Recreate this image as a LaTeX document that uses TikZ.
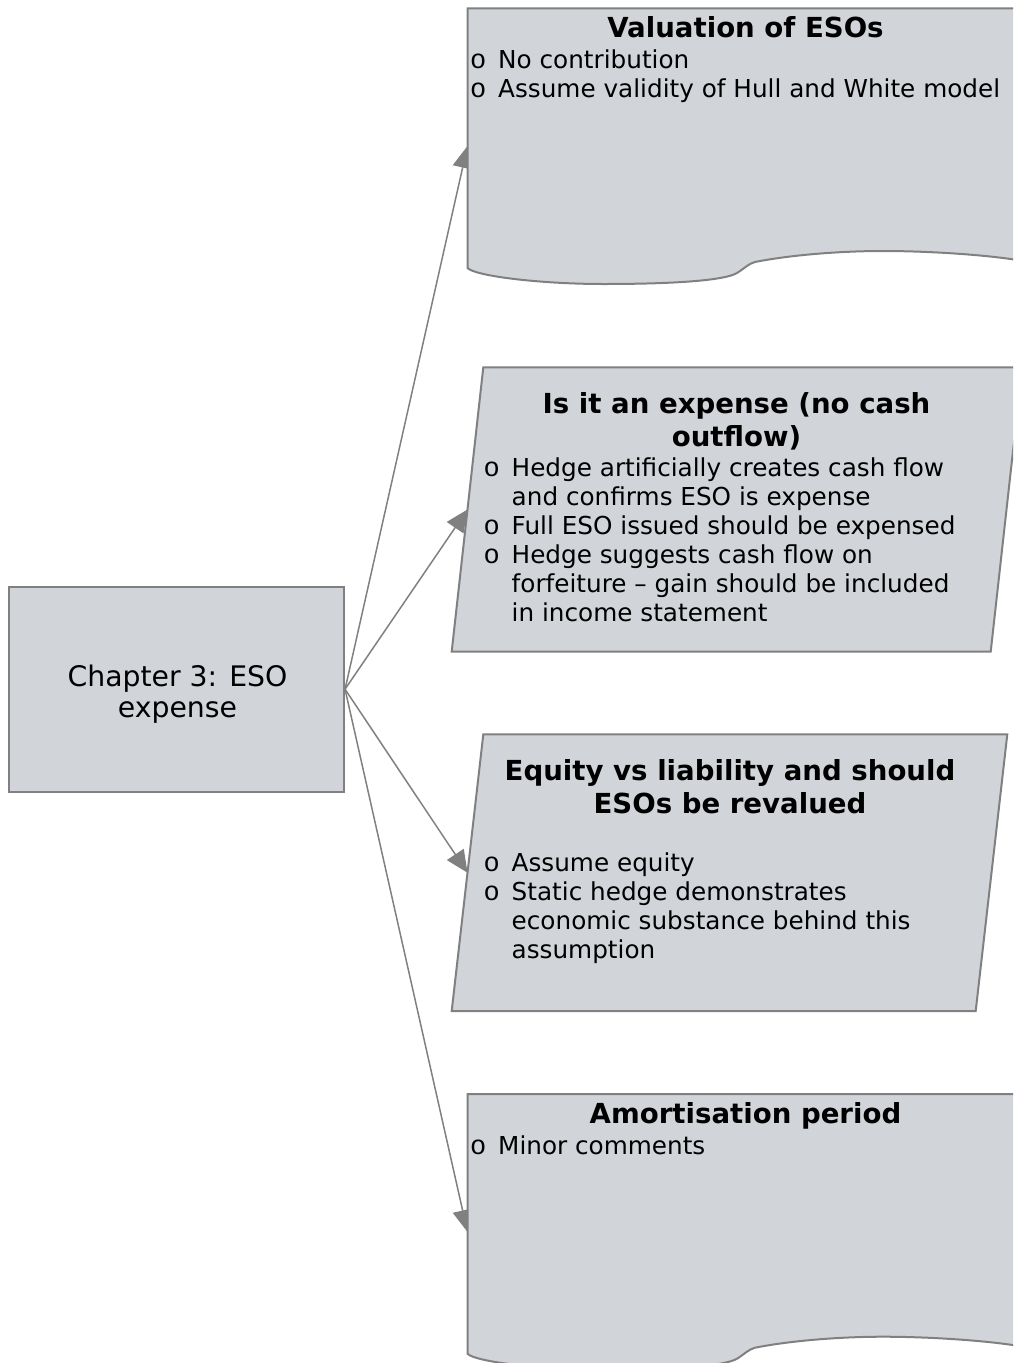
\documentclass[tikz,border=0pt]{standalone}
\usepackage{fontspec}
\setmainfont{DejaVu Sans}
\newfontfamily\bulletfont{Liberation Mono}
\usetikzlibrary{arrows.meta}

\definecolor{boxfill}{RGB}{209,213,218}
\definecolor{edgegray}{RGB}{128,128,128}

\newcommand\bodyfont{\fontsize{24.7pt}{29pt}\selectfont}
\newcommand\headfont{\fontsize{27.6pt}{33.3pt}\selectfont\bfseries}
\newcommand\rootfont{\fontsize{28.3pt}{31pt}\selectfont}
% bullet item and its continuation lines
\newcommand\itm[1]{\strut\makebox[28pt][l]{\bulletfont\fontsize{27pt}{29pt}\selectfont o}#1}
\newcommand\cont[1]{\strut\hspace*{28pt}#1}

% document shape with a wavy lower edge, top edge at y = #1
\newcommand\docshape[1]{%
  \begin{scope}[shift={(0,#1)}]
    \path[boxshape] (467.5,0) -- (1023,0) -- (1023,252.7)
      .. controls (990,246.7) and (930,242.7) .. (883,242.7)
      .. controls (840,242.7) and (790,246.7) .. (755,253.7)
      .. controls (748,255.7) and (745,259.7) .. (737,264.7)
      .. controls (725,271.7) and (680,275.7) .. (603,275.7)
      .. controls (540,275.7) and (475,267.7) .. (467.5,259.7) -- cycle;
  \end{scope}}

\begin{document}
\begin{tikzpicture}[x=1pt,y=-1pt,
  boxshape/.style={draw=edgegray, line width=2pt, fill=boxfill},
  conn/.style={draw=edgegray, line width=1.5pt, -{Triangle[length=22pt,width=20pt]}},
  heading/.style={anchor=north, inner sep=0pt, align=center, font=\headfont},
  body/.style={anchor=north west, inner sep=0pt, align=left, font=\bodyfont}]

\useasboundingbox (0,0) rectangle (1013,1363);
\clip (0,0) rectangle (1013,1363);

% root box
\node[boxshape, minimum width=334.7pt, minimum height=205pt, inner sep=0pt]
  (root) at (176.7,689.2) {};
\node[anchor=north, inner sep=0pt, align=center, font=\rootfont]
  (roottext) at (177.5,664.3) {\strut Chapter 3: ESO\\\strut expense};

% entry points on the left side of each topic box
\coordinate (valin) at (467.5,146);
\coordinate (expin) at (467.5,509.5);
\coordinate (eqin)  at (467.5,872.7);
\coordinate (amin)  at (467.5,1232);

% connectors
\draw[conn] (root.east) -- (valin);
\draw[conn] (root.east) -- (expin);
\draw[conn] (root.east) -- (eqin);
\draw[conn] (root.east) -- (amin);

% topic boxes
\docshape{8.3}
\path[boxshape] (483.3,367.3) -- (1022.3,367.3) -- (990.7,651.7) -- (451.7,651.7) -- cycle;
\path[boxshape] (483.3,734.3) -- (1007.3,734.3) -- (975.7,1011) -- (451.7,1011) -- cycle;
\docshape{1094}

% valuation
\node[heading] (valhead) at (745.5,13.7) {\strut Valuation of ESOs};
\node[body] (valbody) at (470,48.2) {%
  \itm{No contribution}\\
  \itm{Assume validity of Hull and White model}};

% expense
\node[heading] (exphead) at (736.5,390) {\strut Is it an expense (no cash\\\strut outflow)};
\node[body] (expbody) at (483.5,456.4) {%
  \itm{Hedge artificially creates cash flow}\\
  \cont{and confirms ESO is expense}\\
  \itm{Full ESO issued should be expensed}\\
  \itm{Hedge suggests cash flow on}\\
  \cont{forfeiture – gain should be included}\\
  \cont{in income statement}};

% equity vs liability
\node[heading] (eqhead) at (730,756.7) {\strut Equity vs liability and should\\\strut ESOs be revalued};
\node[body] (eqbody) at (483.5,851.4) {%
  \itm{Assume equity}\\
  \itm{Static hedge demonstrates}\\
  \cont{economic substance behind this}\\
  \cont{assumption}};

% amortisation
\node[heading] (amhead) at (745.5,1099.7) {\strut Amortisation period};
\node[body] (ambody) at (470,1134.2) {%
  \itm{Minor comments}};

\end{tikzpicture}
\end{document}
